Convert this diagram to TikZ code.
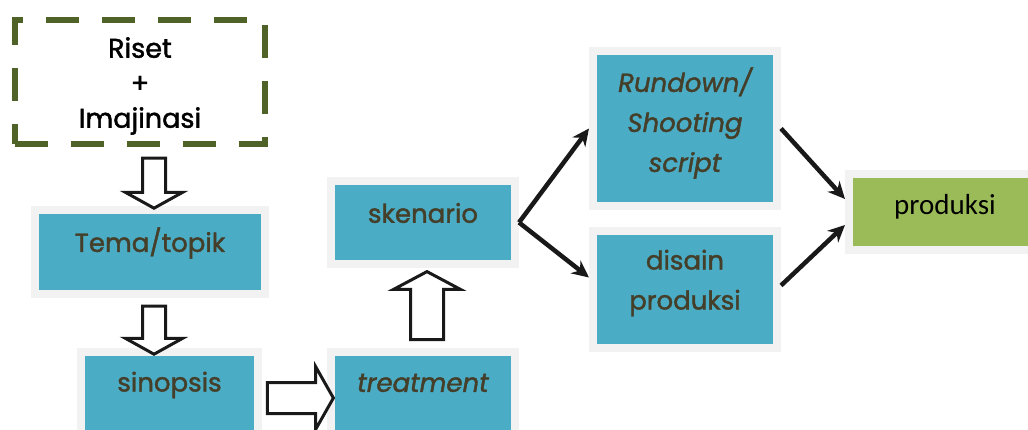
\documentclass[tikz,border=0pt]{standalone}
\usepackage{fontspec}
\usetikzlibrary{shapes.arrows,arrows.meta}
\newfontfamily\boxfont[FakeBold=1.6]{Poppins}
\newfontfamily\prodfont{Carlito}
\definecolor{boxblue}{HTML}{4BACC6}
\definecolor{framegray}{HTML}{F2F2F2}
\definecolor{dashgreen}{HTML}{4F6228}
\definecolor{txtbrown}{HTML}{453F2A}
\definecolor{prodgreen}{HTML}{9BBB59}
\tikzset{
  box/.style={rectangle, fill=boxblue, draw=framegray, line width=8pt, inner sep=0pt},
  lbl/.style={font=\boxfont\fontsize{26}{40}\selectfont, text=txtbrown, align=center, inner sep=0pt},
  hollow/.style={single arrow, draw=black!90, fill=white, line width=3pt},
  link/.style={-{Stealth[length=17pt,width=16pt]}, line width=4.5pt, black!90}
}
\begin{document}
\begin{tikzpicture}[x=1pt, y=-1pt]
\useasboundingbox (0,0) rectangle (1028,430);

% ide awal
\node[rectangle, draw=dashgreen, line width=6pt, dash pattern=on 33pt off 23pt,
      minimum width=250pt, minimum height=124pt] (riset) at (140,82) {};
\node[font=\boxfont\fontsize{27}{35}\selectfont, align=center, inner sep=0pt] (t-riset) at (140,86) {Riset\\+\\Imajinasi};

% kotak-kotak
\node[box, minimum width=230pt, minimum height=84pt] (tema) at (150,252) {};
\node[box, minimum width=177pt, minimum height=84pt] (sinopsis) at (169.5,394) {};
\node[box, minimum width=184pt, minimum height=84pt] (treatment) at (423,394) {};
\node[box, minimum width=184pt, minimum height=83pt] (skenario) at (423,222.5) {};
\node[box, minimum width=184pt, minimum height=155pt] (rundown) at (685,128.5) {};
\node[box, minimum width=184pt, minimum height=117pt] (disain) at (685,289.5) {};
\node[box, fill=prodgreen, minimum width=190pt, minimum height=76pt] (produksi) at (944,212) {};

\node[lbl] (t-tema) at (150,243) {Tema/topik};
\node[lbl] (t-sinopsis) at (169.5,385) {sinopsis};
\node[lbl] (t-treatment) at (423,383) {\itshape treatment};
\node[lbl] (t-skenario) at (423,213) {skenario};
\node[lbl] (t-rundown) at (685,123) {\itshape Rundown/\\\itshape Shooting\\\itshape script};
\node[lbl] (t-disain) at (685,283) {disain\\produksi};
\node[font=\prodfont\fontsize{29}{34}\selectfont, inner sep=0pt] (t-produksi) at (945,207) {produksi};

% panah blok
\node[hollow, shape border rotate=270, inner sep=10pt, minimum height=50pt, minimum width=56pt,
      single arrow head extend=17pt, single arrow tip angle=122] (a1) at (154,180) {};
\node[hollow, shape border rotate=270, inner sep=10pt, minimum height=48pt, minimum width=56pt,
      single arrow head extend=17pt, single arrow tip angle=122] (a2) at (154,327) {};
\node[hollow, inner sep=14pt, minimum height=66pt, minimum width=62pt,
      single arrow head extend=16pt, single arrow tip angle=121] (a3) at (296,398) {};
\node[hollow, shape border rotate=90, inner sep=15pt, minimum height=68pt, minimum width=66pt,
      single arrow head extend=17pt, single arrow tip angle=124] (a4) at (427,310) {};

% panah garis
\draw[link] (skenario.east) -- (rundown.west);
\draw[link] (skenario.east) -- ([yshift=12pt]disain.west);
\draw[link] (rundown.east) -- ([yshift=13pt]produksi.west);
\draw[link] ([yshift=4pt]disain.east) -- ([yshift=-13pt]produksi.west);
\end{tikzpicture}
\end{document}
